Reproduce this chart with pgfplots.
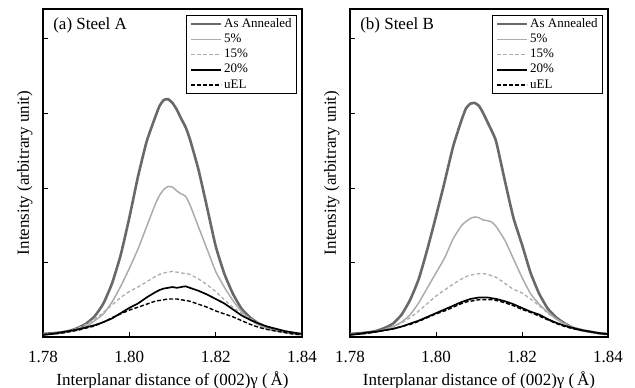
\documentclass[border=0pt]{standalone}
\usepackage{fontspec}
\setmainfont{Liberation Serif}
\usepackage{pgfplots}
\usepackage{pgfplotstable}
\pgfplotsset{compat=1.18}
\definecolor{annc}{RGB}{105,105,105}
\definecolor{lightc}{RGB}{172,172,172}
\pgfplotstableread{
x A P5 P15 P20 U
1.780 0.04 0.03 0.03 0.03 0.03
1.782 0.05 0.04 0.04 0.04 0.04
1.784 0.06 0.05 0.06 0.06 0.05
1.786 0.08 0.07 0.08 0.08 0.07
1.788 0.12 0.10 0.12 0.10 0.09
1.790 0.18 0.14 0.17 0.13 0.12
1.792 0.28 0.22 0.24 0.16 0.15
1.794 0.45 0.31 0.33 0.20 0.20
1.796 0.72 0.47 0.43 0.25 0.26
1.798 1.10 0.68 0.53 0.32 0.31
1.800 1.60 0.92 0.61 0.39 0.36
1.802 2.15 1.18 0.67 0.45 0.40
1.804 2.62 1.48 0.74 0.53 0.44
1.806 2.95 1.78 0.81 0.60 0.48
1.807 3.10 1.90 0.84 0.63 0.49
1.808 3.18 1.98 0.86 0.65 0.50
1.809 3.19 2.02 0.87 0.66 0.51
1.810 3.14 2.01 0.88 0.67 0.51
1.811 3.05 1.96 0.87 0.66 0.51
1.812 2.93 1.92 0.86 0.67 0.50
1.813 2.82 1.89 0.85 0.68 0.49
1.814 2.66 1.78 0.84 0.66 0.48
1.816 2.25 1.48 0.78 0.62 0.44
1.818 1.74 1.18 0.70 0.57 0.40
1.820 1.22 0.88 0.61 0.51 0.35
1.822 0.85 0.67 0.50 0.45 0.31
1.824 0.58 0.49 0.40 0.37 0.27
1.826 0.38 0.34 0.32 0.29 0.22
1.828 0.26 0.23 0.25 0.23 0.17
1.830 0.18 0.16 0.19 0.18 0.13
1.832 0.12 0.11 0.14 0.14 0.10
1.834 0.09 0.08 0.10 0.11 0.08
1.836 0.07 0.06 0.07 0.08 0.06
1.838 0.05 0.04 0.05 0.06 0.04
1.840 0.04 0.03 0.04 0.04 0.03
}\steelA
\pgfplotstableread{
x A P5 P15 P20 U
1.780 0.04 0.03 0.03 0.03 0.03
1.782 0.05 0.04 0.04 0.04 0.04
1.784 0.06 0.05 0.05 0.06 0.05
1.786 0.08 0.07 0.07 0.07 0.07
1.788 0.12 0.10 0.10 0.09 0.09
1.790 0.18 0.14 0.14 0.11 0.11
1.792 0.30 0.20 0.19 0.14 0.14
1.794 0.50 0.30 0.26 0.18 0.17
1.796 0.78 0.46 0.35 0.22 0.21
1.798 1.18 0.66 0.45 0.27 0.26
1.800 1.62 0.86 0.55 0.32 0.31
1.802 2.08 1.06 0.63 0.37 0.35
1.804 2.56 1.32 0.71 0.42 0.40
1.806 2.92 1.50 0.78 0.47 0.45
1.807 3.07 1.55 0.81 0.49 0.47
1.808 3.13 1.59 0.83 0.51 0.48
1.809 3.14 1.61 0.84 0.52 0.49
1.810 3.10 1.60 0.85 0.53 0.50
1.811 3.00 1.57 0.85 0.53 0.50
1.812 2.88 1.56 0.84 0.53 0.50
1.813 2.76 1.54 0.82 0.52 0.50
1.814 2.62 1.48 0.80 0.51 0.49
1.816 2.10 1.30 0.72 0.48 0.46
1.818 1.60 1.05 0.64 0.44 0.42
1.820 1.24 0.80 0.59 0.39 0.37
1.822 0.86 0.58 0.51 0.34 0.33
1.824 0.58 0.44 0.42 0.30 0.28
1.826 0.38 0.33 0.32 0.24 0.23
1.828 0.26 0.24 0.24 0.19 0.18
1.830 0.18 0.17 0.18 0.15 0.14
1.832 0.12 0.12 0.13 0.12 0.11
1.834 0.09 0.09 0.10 0.09 0.09
1.836 0.07 0.07 0.07 0.07 0.07
1.838 0.05 0.05 0.05 0.05 0.05
1.840 0.04 0.04 0.04 0.04 0.04
}\steelB
\pgfplotsset{
  panel/.style={
    scale only axis, height=328bp,
    xmin=1.78, xmax=1.84, ymin=0, ymax=4.4,
    xtick={1.78,1.80,1.82,1.84},
    xticklabels={1.78,1.80,1.82,1.84},
    ytick={1,2,3,4}, yticklabels={},
    xtick pos=bottom, ytick pos=left, tick align=inside,
    major tick length=5bp,
    axis line style={line width=1.3bp},
    every tick/.style={black, line width=0.8bp},
    tick label style={font=\fontsize{17bp}{20bp}\selectfont},
    xticklabel style={yshift=-11bp},
    /pgf/number format/assume math mode=true,
    xlabel={Interplanar distance of (002)γ (\,Å)},
    every axis x label/.style={at={(axis description cs:0.5,0)}, anchor=base, yshift=-48bp,
      font=\fontsize{17bp}{20bp}\selectfont},
    ylabel={Intensity (arbitrary unit)},
    every axis y label/.style={at={(axis description cs:-0.04,0.5)}, anchor=south, rotate=90,
      inner sep=0pt, font=\fontsize{17bp}{20bp}\selectfont},
    legend style={at={(0.981,0.982)}, anchor=north east, draw=black, line width=0.8bp,
      font=\fontsize{13bp}{15bp}\selectfont, inner xsep=3.5bp, inner ysep=1.5bp, row sep=0.5bp,
      nodes={text height=9.5bp, text depth=3.2bp, inner ysep=1bp, inner xsep=1.5bp},
      cells={anchor=west}},
    legend cell align=left,
    legend image code/.code={\draw[#1] (0bp,0bp) -- (30bp,0bp);},
    every axis plot/.append style={smooth, tension=0.3},
  },
  ann/.style={color=annc, line width=2.6bp},
  pfive/.style={color=lightc, line width=1.5bp},
  pfifteen/.style={color=lightc, line width=1.3bp, dash pattern=on 3.5bp off 2.5bp},
  ptwenty/.style={color=black, line width=1.7bp},
  puel/.style={color=black, line width=1.4bp, dash pattern=on 4bp off 2bp},
}
\begin{document}
\begin{tikzpicture}
\useasboundingbox (-43bp,-51bp) rectangle (592bp,337bp);
\begin{axis}[panel, width=259bp, at={(0bp,0bp)}, anchor=south west]
\addplot[ann] table[x=x,y=A] {\steelA};
\addlegendentry{As Annealed}
\addplot[pfive] table[x=x,y=P5] {\steelA};
\addlegendentry{5\%}
\addplot[pfifteen] table[x=x,y=P15] {\steelA};
\addlegendentry{15\%}
\addplot[ptwenty] table[x=x,y=P20] {\steelA};
\addlegendentry{20\%}
\addplot[puel] table[x=x,y=U] {\steelA};
\addlegendentry{uEL}
\node[anchor=base west, font=\fontsize{17bp}{20bp}\selectfont, inner sep=0pt] at (rel axis cs:0.039,0.936) {(a) Steel A};
\end{axis}
\begin{axis}[panel, width=258bp, at={(307bp,0bp)}, anchor=south west]
\addplot[ann] table[x=x,y=A] {\steelB};
\addlegendentry{As Annealed}
\addplot[pfive] table[x=x,y=P5] {\steelB};
\addlegendentry{5\%}
\addplot[pfifteen] table[x=x,y=P15] {\steelB};
\addlegendentry{15\%}
\addplot[ptwenty] table[x=x,y=P20] {\steelB};
\addlegendentry{20\%}
\addplot[puel] table[x=x,y=U] {\steelB};
\addlegendentry{uEL}
\node[anchor=base west, font=\fontsize{17bp}{20bp}\selectfont, inner sep=0pt] at (rel axis cs:0.039,0.936) {(b) Steel B};
\end{axis}
\end{tikzpicture}
\end{document}
